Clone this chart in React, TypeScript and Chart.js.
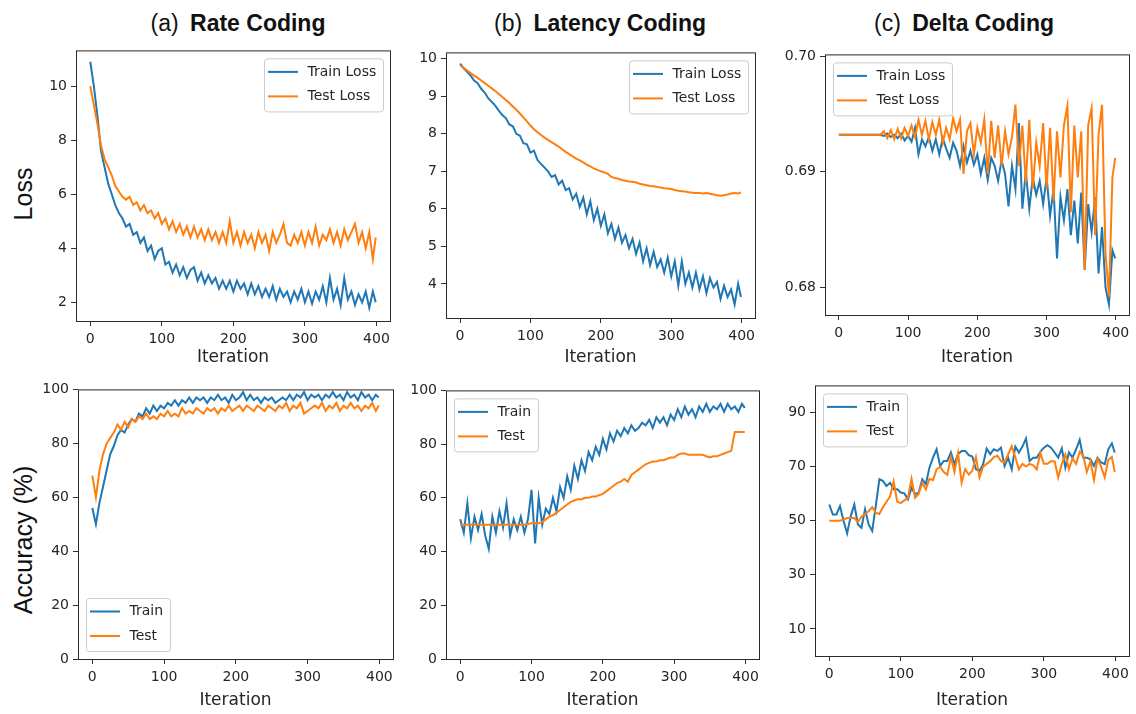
import React, { useEffect, useRef } from "react";
import { Chart, registerables } from "chart.js";

Chart.register(...registerables);

const BLUE = "#1f77b4";
const ORANGE = "#ff7f0e";
const TEXT = "#262626";
const TICK_FONT = "'DejaVu Sans', 'Liberation Sans', sans-serif";
const TITLE_FONT = "'Liberation Sans', Arial, sans-serif";

// shared iteration axis
const iterations = [
  0, 5, 10, 15, 20, 25, 30, 35, 40, 45,
  50, 55, 60, 65, 70, 75, 80, 85, 90, 95,
  100, 105, 110, 115, 120, 125, 130, 135, 140, 145,
  150, 155, 160, 165, 170, 175, 180, 185, 190, 195,
  200, 205, 210, 215, 220, 225, 230, 235, 240, 245,
  250, 255, 260, 265, 270, 275, 280, 285, 290, 295,
  300, 305, 310, 315, 320, 325, 330, 335, 340, 345,
  350, 355, 360, 365, 370, 375, 380, 385, 390, 395,
  399,
];
const xTickValues = [0, 100, 200, 300, 400];

// (a) Rate coding
const rateTrainLoss = [
  10.9, 10.0, 8.9, 7.6, 7.0, 6.4, 6.0, 5.6, 5.3, 5.1,
  4.8, 4.9, 4.5, 4.6, 4.2, 4.4, 3.9, 4.1, 3.6, 3.9,
  4.0, 3.4, 3.5, 3.1, 3.4, 3.0, 3.3, 2.9, 3.2, 3.3,
  2.8, 3.1, 2.7, 3.0, 2.7, 2.9, 2.5, 2.8, 2.5, 2.8,
  2.4, 2.8, 2.5, 2.7, 2.3, 2.7, 2.3, 2.6, 2.2, 2.5,
  2.2, 2.6, 2.1, 2.5, 2.2, 2.4, 2.0, 2.4, 2.1, 2.5,
  2.0, 2.4, 1.95, 2.4, 2.1, 2.6, 2.0, 2.9, 2.1, 2.5,
  1.9, 2.9, 2.1, 2.4, 1.9, 2.3, 2.0, 2.4, 1.8, 2.4,
  2.0,
];
const rateTestLoss = [
  10.0, 9.3, 8.6, 7.8, 7.3, 7.0, 6.7, 6.3, 6.1, 5.9,
  5.8, 5.9, 5.6, 5.7, 5.4, 5.6, 5.3, 5.4, 5.1, 5.3,
  4.9, 5.1, 4.7, 5.0, 4.6, 4.9, 4.5, 4.8, 4.4, 4.8,
  4.4, 4.7, 4.3, 4.7, 4.3, 4.6, 4.2, 4.6, 4.2, 5.0,
  4.2, 4.6, 4.1, 4.6, 4.2, 4.5, 4.0, 4.6, 4.2, 4.5,
  3.9, 4.6, 4.2, 4.5, 4.9, 4.2, 4.1, 4.5, 4.2, 4.6,
  4.1, 4.6, 4.2, 4.8, 4.1, 4.5, 4.3, 4.7, 4.2, 4.6,
  4.1, 4.7, 4.3, 4.6, 4.9, 4.2, 4.6, 4.0, 4.6, 3.6,
  4.4,
];
const rateTrainAcc = [
  56, 50, 58, 64, 70, 76, 79, 83, 85, 84,
  87, 89, 88, 91, 90, 93, 91, 94, 92, 94,
  93, 95, 94, 96, 94, 96, 95, 97, 95, 97,
  96, 97, 95, 97, 96, 98, 96, 97, 95, 98,
  96, 97, 99, 96, 98, 96, 97, 95, 97, 96,
  97, 95, 96, 97, 96, 98, 96, 98, 97, 99,
  96, 98, 97, 98, 96, 98, 97, 99, 97, 98,
  96, 99, 97, 98, 96, 99, 97, 98, 96, 98,
  97,
];
const rateTestAcc = [
  68, 60, 70, 76, 80, 82, 84, 87, 85, 88,
  86, 89, 88, 90, 89, 91, 89, 90, 89, 91,
  90, 92, 90, 91, 90, 93, 91, 92, 91, 93,
  92, 91, 93, 92, 93, 91, 93, 92, 94, 92,
  93, 94, 92, 94, 93, 92, 94, 93, 92, 94,
  93, 92, 94, 93, 95, 92, 94, 93, 95, 91,
  92, 93, 94, 93, 95, 92, 94, 93, 95, 92,
  94, 93, 95, 93, 94, 92, 94, 93, 95, 92,
  94,
];

// (b) Latency coding
const latencyTrainLoss = [
  9.87, 9.75, 9.65, 9.55, 9.42, 9.35, 9.2, 9.1, 8.95, 8.85,
  8.75, 8.62, 8.5, 8.42, 8.25, 8.2, 8.0, 7.95, 7.75, 7.72,
  7.5, 7.55, 7.3, 7.2, 7.1, 7.0, 6.85, 6.9, 6.65, 6.75,
  6.5, 6.55, 6.25, 6.4, 6.05, 6.3, 5.85, 6.2, 5.7, 6.0,
  5.55, 5.85, 5.35, 5.6, 5.2, 5.5, 5.1, 5.3, 4.95, 5.2,
  4.8, 5.1, 4.6, 4.95, 4.5, 4.85, 4.45, 4.65, 4.3, 4.7,
  4.2, 4.6, 3.95, 4.6, 4.0, 4.3, 3.9, 4.3, 3.85, 4.2,
  3.75, 4.15, 3.9, 4.05, 3.6, 3.95, 3.65, 3.85, 3.45, 4.0,
  3.65,
];
const latencyTestLoss = [
  9.82, 9.76, 9.69, 9.62, 9.55, 9.49, 9.42, 9.35, 9.28, 9.21,
  9.14, 9.06, 8.98, 8.9, 8.82, 8.73, 8.64, 8.54, 8.44, 8.33,
  8.22, 8.12, 8.04, 7.97, 7.9, 7.84, 7.78, 7.72, 7.66, 7.59,
  7.52, 7.46, 7.4, 7.34, 7.29, 7.24, 7.18, 7.13, 7.08, 7.04,
  7.0, 6.97, 6.93, 6.85, 6.82, 6.8, 6.77, 6.75, 6.73, 6.72,
  6.7, 6.67, 6.65, 6.63, 6.61, 6.6, 6.58, 6.57, 6.55, 6.54,
  6.53, 6.5, 6.48, 6.47, 6.46, 6.44, 6.43, 6.42, 6.42, 6.41,
  6.42, 6.4, 6.38, 6.36, 6.35, 6.36, 6.38, 6.41, 6.42, 6.41,
  6.44,
];
const latencyTrainAcc = [
  52, 47, 58, 45, 53, 48, 54, 46, 41, 53,
  47, 55, 49, 58, 46, 52, 48, 53, 47, 52,
  63, 43, 60, 50, 56, 54, 60, 55, 64, 60,
  68, 63, 72, 67, 74, 70, 77, 74, 79, 76,
  82, 78, 84, 81, 85, 83, 86, 84, 87, 85,
  86, 88, 87, 89, 86, 90, 88, 90, 87, 91,
  89, 93, 90, 94, 91, 93, 90, 94, 92, 95,
  92, 94, 93, 95, 92, 95, 93, 94, 92, 95,
  93.5,
];
const latencyTestAcc = [
  50, 50, 50, 50, 50, 50, 50, 50, 50, 50,
  50, 50, 50, 50, 50, 50, 50, 50, 50, 50.3,
  50.5, 50.5, 50.5, 51, 52, 53, 53.5, 54.5, 55.5, 56.5,
  57.5, 58.5, 59, 59.5, 59.5, 60, 60, 60.5, 60.5, 61,
  61.5, 62.5, 63.5, 64.5, 65.5, 66, 67, 66, 68.5, 69.5,
  70.5, 71.5, 72.5, 73, 73.5, 73.5, 74, 74, 74.5, 75,
  75, 76, 76.5, 76.5, 76, 76, 76, 76, 76, 75.5,
  75, 75.5, 75.5, 76, 76.5, 77, 77.5, 84.5, 84.5, 84.5,
  84.5,
];

// (c) Delta coding
const deltaTrainLoss = [
  0.6932, 0.6932, 0.6932, 0.6932, 0.6932, 0.6932, 0.6932, 0.6932, 0.6932, 0.6932,
  0.6932, 0.6932, 0.6932, 0.6931, 0.6933, 0.693, 0.6932, 0.6929, 0.6933, 0.6927,
  0.6931, 0.6926, 0.6938, 0.6915, 0.6928, 0.6922, 0.693, 0.6918, 0.6928, 0.6915,
  0.6929, 0.692, 0.6912, 0.6925, 0.6918, 0.6905, 0.6922, 0.6908, 0.6918, 0.6906,
  0.6915, 0.6898, 0.6912, 0.6893, 0.6912, 0.6905, 0.6892, 0.691, 0.6898, 0.687,
  0.6905, 0.6885, 0.6942, 0.6868, 0.69, 0.6868, 0.6895, 0.688, 0.6892, 0.6872,
  0.6895, 0.6862, 0.6885, 0.6825, 0.6878, 0.6858, 0.6885, 0.6845, 0.6875, 0.6838,
  0.6882, 0.6815, 0.6872, 0.6848, 0.6878, 0.6812, 0.6852, 0.68, 0.6785, 0.6832,
  0.6825,
];
const deltaTestLoss = [
  0.6932, 0.6932, 0.6932, 0.6932, 0.6932, 0.6932, 0.6932, 0.6932, 0.6932, 0.6932,
  0.6932, 0.6932, 0.6932, 0.6935, 0.6929, 0.6936, 0.6928, 0.6937, 0.6929, 0.6938,
  0.6931, 0.694, 0.693, 0.6945, 0.6932, 0.6944, 0.6928, 0.6943, 0.6932, 0.6945,
  0.6925, 0.6938, 0.6928, 0.6946, 0.6935, 0.6945, 0.6898, 0.6935, 0.6942, 0.6915,
  0.6938, 0.6925, 0.6945, 0.6898, 0.6944, 0.6912, 0.694, 0.6905, 0.6935, 0.6915,
  0.693, 0.6958, 0.6905, 0.694, 0.689, 0.6945, 0.6885, 0.6925, 0.6905, 0.6942,
  0.6885, 0.6938, 0.6875, 0.6935, 0.6895, 0.694, 0.6957, 0.6865, 0.694, 0.6895,
  0.6935, 0.6815, 0.694, 0.6955, 0.6845, 0.6932, 0.6958, 0.683, 0.6792, 0.6895,
  0.6912,
];
const deltaTrainAcc = [
  56, 52.3, 52.3, 55.4, 49.9, 45.3, 51.7, 56, 48.6, 47.4,
  54.2, 48.6, 46.2, 55.4, 65.3, 64.7, 62.8, 64, 61.6, 61.6,
  60.4, 60.1, 57.9, 62.2, 59.8, 60.4, 65.3, 63.5, 69.6, 73.3,
  76.4, 70.2, 72.1, 72.1, 75.2, 70.9, 74.6, 75.8, 75.8, 74.2,
  73.7, 69, 68.4, 70.9, 76.7, 74.6, 76.4, 75.8, 77, 70.2,
  73.3, 69, 77.4, 75.2, 77.4, 80.4, 72.1, 73.3, 73.3, 75.4,
  77, 77.9, 77, 75.2, 73.3, 76.7, 69.6, 75.2, 73.3, 76.4,
  79.9, 73.3, 73.3, 72.7, 70.2, 73.3, 71.5, 70.9, 76.4, 78.6,
  75.2,
];
const deltaTestAcc = [
  50, 50, 50, 50, 50.5, 51, 51, 51, 49.5, 51.5,
  52.5, 53.5, 55, 53, 52.5, 55, 57, 59, 64.5, 57,
  56.5, 57.5, 58.5, 65.5, 58.5, 60, 64, 61.5, 65.5, 65,
  69, 70, 68, 67, 73.5, 68, 75, 64, 69, 67,
  68.5, 73.5, 66, 70, 71, 72, 73.5, 74, 72, 71.5,
  74.5, 77.5, 73.5, 69, 71, 70, 71, 70.5, 69, 75,
  71, 71, 72, 72, 66, 71, 74.5, 69, 73, 71,
  75.5, 74, 68, 72, 65, 73, 70, 66, 72.5, 73.5,
  68,
];

// y tick labels
const rateLossTicks = [2, 4, 6, 8, 10];
const latencyLossTicks = [4, 5, 6, 7, 8, 9, 10];
const deltaLossTicks = [0.68, 0.69, 0.7];
const accTicks = [0, 20, 40, 60, 80, 100];
const deltaAccTicks = [10, 30, 50, 70, 90];

type Series = { label: string; values: number[]; color: string };
type Spec = {
  id: string;
  frame: { l: number; t: number; r: number; b: number };
  yMin: number;
  yMax: number;
  yTicks: number[];
  decimals: number;
  series: Series[];
  legend: "ur" | "ul" | "ll";
  xTitleY: number;
};

const YW = 60;
const PT = 12;
const PR = 14;
const X_TITLE_SIZE = 17;

const panels: Spec[] = [
  {
    id: "a-loss",
    frame: { l: 76, t: 50, r: 390, b: 321 },
    yMin: 1.31, yMax: 11.32, yTicks: rateLossTicks, decimals: 0,
    series: [
      { label: "Train Loss", values: rateTrainLoss, color: BLUE },
      { label: "Test Loss", values: rateTestLoss, color: ORANGE },
    ],
    legend: "ur", xTitleY: 358,
  },
  {
    id: "b-loss",
    frame: { l: 446, t: 52, r: 755, b: 318 },
    yMin: 3.09, yMax: 10.17, yTicks: latencyLossTicks, decimals: 0,
    series: [
      { label: "Train Loss", values: latencyTrainLoss, color: BLUE },
      { label: "Test Loss", values: latencyTestLoss, color: ORANGE },
    ],
    legend: "ur", xTitleY: 358,
  },
  {
    id: "c-loss",
    frame: { l: 825, t: 54, r: 1129, b: 315 },
    yMin: 0.6776, yMax: 0.70015, yTicks: deltaLossTicks, decimals: 2,
    series: [
      { label: "Train Loss", values: deltaTrainLoss, color: BLUE },
      { label: "Test Loss", values: deltaTestLoss, color: ORANGE },
    ],
    legend: "ul", xTitleY: 358,
  },
  {
    id: "a-acc",
    frame: { l: 78, t: 389, r: 393, b: 659 },
    yMin: 0, yMax: 100, yTicks: accTicks, decimals: 0,
    series: [
      { label: "Train", values: rateTrainAcc, color: BLUE },
      { label: "Test", values: rateTestAcc, color: ORANGE },
    ],
    legend: "ll", xTitleY: 701,
  },
  {
    id: "b-acc",
    frame: { l: 446, t: 390, r: 759, b: 659 },
    yMin: 0, yMax: 100, yTicks: accTicks, decimals: 0,
    series: [
      { label: "Train", values: latencyTrainAcc, color: BLUE },
      { label: "Test", values: latencyTestAcc, color: ORANGE },
    ],
    legend: "ul", xTitleY: 701,
  },
  {
    id: "c-acc",
    frame: { l: 815, t: 385, r: 1129, b: 656 },
    yMin: 0, yMax: 100, yTicks: deltaAccTicks, decimals: 0,
    series: [
      { label: "Train", values: deltaTrainAcc, color: BLUE },
      { label: "Test", values: deltaTestAcc, color: ORANGE },
    ],
    legend: "ul", xTitleY: 701,
  },
];

function Panel({ spec }: { spec: Spec }) {
  const ref = useRef<HTMLCanvasElement>(null);
  const { frame } = spec;
  const xh = Math.round(spec.xTitleY + (X_TITLE_SIZE * 1.2) / 2 - frame.b);
  const left = frame.l - YW;
  const top = frame.t - PT;
  const width = frame.r - frame.l + YW + PR;
  const height = frame.b - frame.t + PT + xh;

  useEffect(() => {
    const canvas = ref.current;
    if (!canvas) return;

    const framePlugin = {
      id: "frameAndLegend-" + spec.id,
      afterDatasetsDraw(chart: any) {
        const { ctx, chartArea: a } = chart;
        ctx.save();
        // axes frame
        ctx.strokeStyle = "#2a2a2a";
        ctx.lineWidth = 1;
        ctx.strokeRect(a.left + 0.5, a.top + 0.5, a.right - a.left, a.bottom - a.top);
        // legend
        ctx.font = `14px ${TICK_FONT}`;
        const textW = Math.max(...spec.series.map((s) => ctx.measureText(s.label).width));
        const w = Math.round(4 + 30 + 9.5 + textW + 7);
        const h = 53;
        let x = a.left + 8;
        let y = a.top + 8;
        if (spec.legend === "ur") x = a.right - 7 - w;
        if (spec.legend === "ll") y = a.bottom - 8 - h;
        ctx.beginPath();
        if ((ctx as any).roundRect) (ctx as any).roundRect(x + 0.5, y + 0.5, w, h, 3);
        else ctx.rect(x + 0.5, y + 0.5, w, h);
        ctx.fillStyle = "rgba(255,255,255,0.8)";
        ctx.fill();
        ctx.strokeStyle = "#cccccc";
        ctx.lineWidth = 1;
        ctx.stroke();
        spec.series.forEach((s, i) => {
          const cy = y + 13.5 + i * 24.5;
          ctx.beginPath();
          ctx.moveTo(x + 4, cy);
          ctx.lineTo(x + 34, cy);
          ctx.strokeStyle = s.color;
          ctx.lineWidth = 2;
          ctx.stroke();
          ctx.fillStyle = TEXT;
          ctx.textBaseline = "middle";
          ctx.textAlign = "left";
          ctx.fillText(s.label, x + 43.5, cy);
        });
        ctx.restore();
      },
    };

    const chart = new Chart(canvas, {
      type: "line",
      data: {
        datasets: spec.series.map((s, i) => ({
          label: s.label,
          data: iterations.map((it, k) => ({ x: it, y: s.values[k] })),
          borderColor: s.color,
          backgroundColor: s.color,
          borderWidth: 2,
          pointRadius: 0,
          tension: 0,
          fill: false,
          order: spec.series.length - i,
        })),
      },
      options: {
        responsive: false,
        animation: false,
        devicePixelRatio: 1,
        events: [],
        layout: { padding: { top: PT, right: PR, left: 0, bottom: 0 }, autoPadding: false } as any,
        plugins: { legend: { display: false }, tooltip: { enabled: false } },
        scales: {
          x: {
            type: "linear",
            min: -19.95,
            max: 418.95,
            afterBuildTicks: (ax: any) => {
              ax.ticks = xTickValues.map((v) => ({ value: v }));
            },
            afterFit: (ax: any) => {
              ax.height = xh;
            },
            grid: { display: true, drawOnChartArea: false, drawTicks: true, tickLength: 5, color: "#333", lineWidth: 1 },
            border: { display: false },
            ticks: {
              color: TEXT,
              padding: 5,
              maxRotation: 0,
              autoSkip: false,
              font: { family: TICK_FONT, size: 14 },
              callback: (v: any) => String(v),
            },
            title: {
              display: true,
              text: "Iteration",
              color: TEXT,
              font: { family: TICK_FONT, size: X_TITLE_SIZE },
              padding: { top: 0, bottom: 0 },
            },
          },
          y: {
            type: "linear",
            min: spec.yMin,
            max: spec.yMax,
            afterBuildTicks: (ax: any) => {
              ax.ticks = spec.yTicks.map((v) => ({ value: v }));
            },
            afterFit: (ax: any) => {
              ax.width = YW;
            },
            grid: { display: true, drawOnChartArea: false, drawTicks: true, tickLength: 5, color: "#333", lineWidth: 1 },
            border: { display: false },
            ticks: {
              color: TEXT,
              padding: 4,
              autoSkip: false,
              font: { family: TICK_FONT, size: 14 },
              callback: (v: any) => Number(v).toFixed(spec.decimals),
            },
          },
        },
      },
      plugins: [framePlugin],
    } as any);

    return () => chart.destroy();
  }, []);

  return (
    <canvas
      ref={ref}
      width={width}
      height={height}
      style={{ position: "absolute", left, top, width, height, display: "block" }}
    />
  );
}

const titles = [
  { tag: "(a)", name: "Rate Coding", cx: 238 },
  { tag: "(b)", name: "Latency Coding", cx: 600 },
  { tag: "(c)", name: "Delta Coding", cx: 964 },
];

const yLabels = [
  { text: "Loss", cx: 22.5, cy: 194 },
  { text: "Accuracy (%)", cx: 23, cy: 540 },
];

export default function App() {
  return (
    <div
      style={{
        position: "absolute",
        left: 0,
        top: 0,
        width: 1136,
        height: 714,
        background: "#ffffff",
        overflow: "hidden",
      }}
    >
      {titles.map((t) => (
        <div
          key={t.tag}
          style={{
            position: "absolute",
            left: t.cx,
            top: 23,
            transform: "translate(-50%, -50%)",
            fontFamily: TITLE_FONT,
            fontSize: 23,
            lineHeight: 1,
            whiteSpace: "nowrap",
            color: "#111",
          }}
        >
          <span>{t.tag} </span>
          <span style={{ fontWeight: 700, marginLeft: 5 }}>{t.name}</span>
        </div>
      ))}
      {yLabels.map((l) => (
        <div
          key={l.text}
          style={{
            position: "absolute",
            left: l.cx,
            top: l.cy,
            transform: "translate(-50%, -50%) rotate(-90deg)",
            fontFamily: TITLE_FONT,
            fontSize: 25,
            lineHeight: 1,
            whiteSpace: "nowrap",
            color: "#111",
          }}
        >
          {l.text}
        </div>
      ))}
      {panels.map((p) => (
        <Panel key={p.id} spec={p} />
      ))}
    </div>
  );
}
